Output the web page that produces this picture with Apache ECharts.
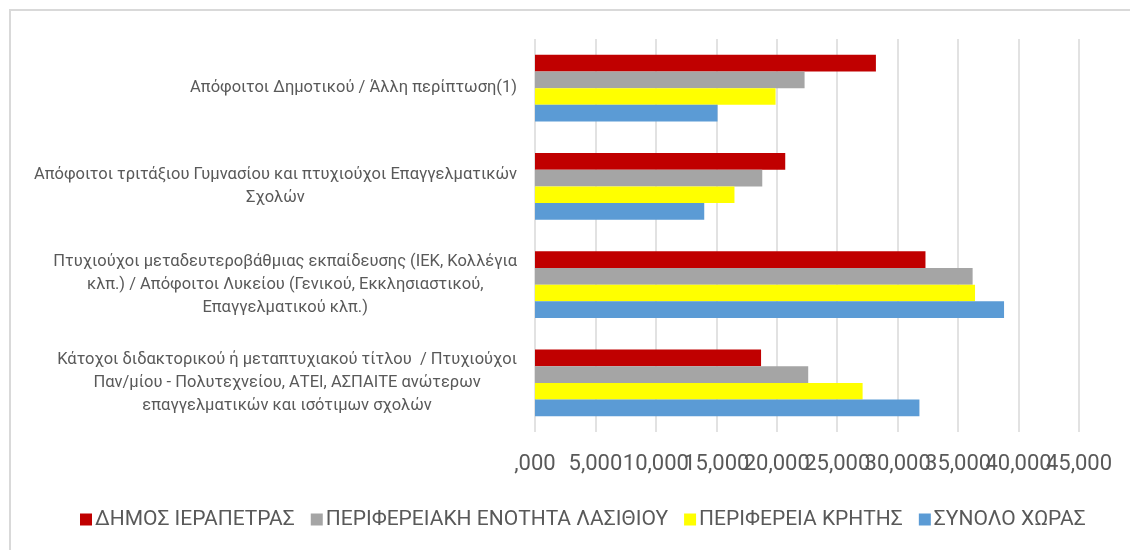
<!DOCTYPE html>
<html>
<head>
<meta charset="utf-8">
<script src="https://cdn.jsdelivr.net/npm/echarts@6/dist/echarts.min.js"></script>
<style>html,body{margin:0;padding:0;background:#fff}#c{width:1130px;height:550px}</style>
</head>
<body>
<div id="c"></div>
<script>
var categories = [
  "Απόφοιτοι Δημοτικού / Άλλη περίπτωση(1)",
  "Απόφοιτοι τριτάξιου Γυμνασίου και πτυχιούχοι Επαγγελματικών\nΣχολών",
  "Πτυχιούχοι μεταδευτεροβάθμιας εκπαίδευσης (ΙΕΚ, Κολλέγια\nκλπ.) / Απόφοιτοι Λυκείου (Γενικού, Εκκλησιαστικού,\nΕπαγγελματικού κλπ.)",
  "Κάτοχοι διδακτορικού ή μεταπτυχιακού τίτλου  / Πτυχιούχοι\nΠαν/μίου - Πολυτεχνείου, ΑΤΕΙ, ΑΣΠΑΙΤΕ ανώτερων\nεπαγγελματικών και ισότιμων σχολών"
];
var seriesNames = ["ΔΗΜΟΣ ΙΕΡΑΠΕΤΡΑΣ", "ΠΕΡΙΦΕΡΕΙΑΚΗ ΕΝΟΤΗΤΑ ΛΑΣΙΘΙΟΥ", "ΠΕΡΙΦΕΡΕΙΑ ΚΡΗΤΗΣ", "ΣΥΝΟΛΟ ΧΩΡΑΣ"];
var dimosIerapetras = [28.2, 20.7, 32.3, 18.7];
var peLasithiou = [22.3, 18.8, 36.2, 22.6];
var perKritis = [19.9, 16.5, 36.4, 27.1];
var synoloXoras = [15.1, 14.0, 38.8, 31.8];
var xTickLabels = [",000", "5,000", "10,000", "15,000", "20,000", "25,000", "30,000", "35,000", "40,000", "45,000"];

var colors = ["#C00000", "#A5A5A5", "#FFFF00", "#5B9BD5"];
var values = [dimosIerapetras, peLasithiou, perKritis, synoloXoras];
var FONT = "Roboto";
var TXT = "#595959";
var X_MIN = 0, X_MAX = 45, X_STEP = 5;

function tickLabel(v) { return xTickLabels[Math.round((v - X_MIN) / X_STEP)]; }
var labelBase = {margin: 21, fontFamily: FONT, fontSize: 22, color: TXT, hideOverlap: false};

var chart = echarts.init(document.getElementById('c'), null, {renderer: 'canvas'});
chart.setOption({
  animation: false,
  backgroundColor: '#fff',
  textStyle: {fontFamily: FONT},
  graphic: [{
    type: 'rect', silent: true, z: -1,
    shape: {x: 10, y: 10, width: 1200, height: 600},
    style: {fill: 'none', stroke: '#d9d9d9', lineWidth: 2}
  }],
  grid: {left: 535, right: 51, top: 39, bottom: 118, containLabel: false},
  legend: {
    bottom: 15, left: 75,
    icon: 'rect', itemWidth: 12, itemHeight: 12, itemGap: 16,
    textStyle: {fontFamily: FONT, fontSize: 21, color: TXT, padding: [0, 0, 0, -2]},
    data: seriesNames
  },
  xAxis: [{
    type: 'value', min: X_MIN, max: X_MAX, interval: X_STEP,
    axisLine: {show: false}, axisTick: {show: false},
    splitLine: {show: true, lineStyle: {color: '#d9d9d9', width: 1.5}},
    axisLabel: Object.assign({}, labelBase, {
      showMinLabel: true, showMaxLabel: false,
      formatter: tickLabel
    })
  }, {
    // same scale; only carries the last tick label, which the first axis drops when labels overlap
    type: 'value', position: 'bottom', min: X_MIN, max: X_MAX, interval: X_STEP,
    axisLine: {show: false}, axisTick: {show: false}, splitLine: {show: false},
    axisLabel: Object.assign({}, labelBase, {
      showMinLabel: false, showMaxLabel: true,
      formatter: function (v) { return v === X_MAX ? tickLabel(v) : ''; }
    })
  }],
  yAxis: {
    type: 'category', inverse: true, data: categories,
    axisLine: {show: false}, axisTick: {show: false},
    axisLabel: {
      margin: 18, color: TXT, fontFamily: FONT, fontSize: 16.5, lineHeight: 23,
      formatter: function (v) {
        return v.split('\n').map(function (l) { return '{c|' + l + '}'; }).join('\n');
      },
      rich: {c: {align: 'center', fontFamily: FONT, fontSize: 16.5, lineHeight: 23, color: TXT}}
    }
  },
  series: seriesNames.map(function (n, i) {
    return {
      name: n, type: 'bar', data: values[i], xAxisIndex: 0,
      barGap: '0%', barCategoryGap: '32%',
      itemStyle: {color: colors[i]}
    };
  })
});
</script>
</body>
</html>
